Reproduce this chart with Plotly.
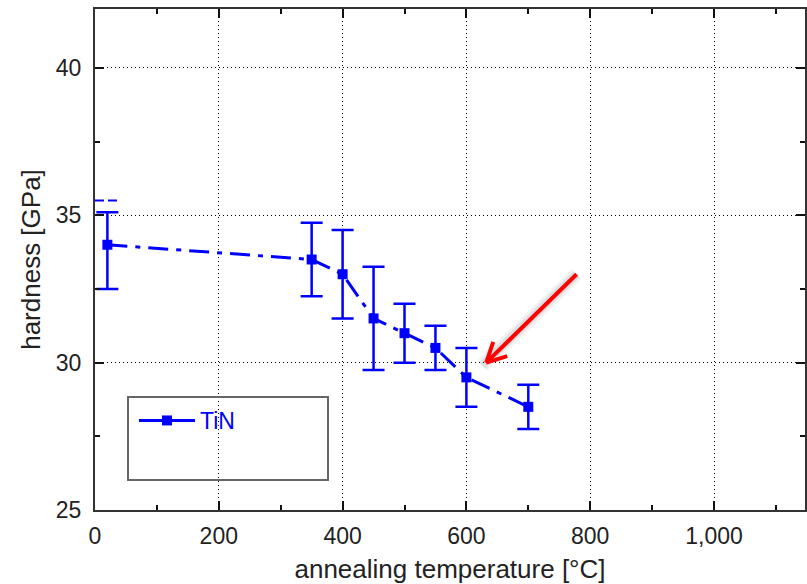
import math
import plotly.graph_objects as go

# ---- data ----
temperature = [20, 350, 400, 450, 500, 550, 600, 700]
hardness = [34.0, 33.5, 33.0, 31.5, 31.0, 30.5, 29.5, 28.5]
hardness_upper = [35.1, 34.75, 34.5, 33.25, 32.0, 31.25, 30.5, 29.25]
hardness_lower = [32.5, 32.25, 31.5, 29.75, 30.0, 29.75, 28.5, 27.75]
series_name = "TiN"

# short dashed cap segment near the first point
cap_x = [0, 36]
cap_y = [35.5, 35.5]

# arrow (data coordinates)
arrow_tail = (778, 33.0)
arrow_tip = (632, 30.0)

x_ticks = [0, 200, 400, 600, 800, 1000]
y_ticks = [25, 30, 35, 40]

X_RANGE = [0, 1147]
Y_RANGE = [25, 42]

BLUE = "#0000ff"
FONT = "Liberation Sans, Arial, sans-serif"

err_plus = [u - v for u, v in zip(hardness_upper, hardness)]
err_minus = [v - l for v, l in zip(hardness, hardness_lower)]

fig = go.Figure()

fig.add_trace(go.Scatter(
    x=temperature, y=hardness, name=series_name, mode="lines+markers",
    legendgroup="tin", showlegend=False,
    line=dict(color=BLUE, width=3, dash="20px,8px,5px,8px"),
    marker=dict(symbol="square", size=10, color=BLUE),
    error_y=dict(type="data", symmetric=False, array=err_plus, arrayminus=err_minus,
                 color=BLUE, thickness=2.5, width=11),
))
# legend entry (solid line + square, as in the reference legend)
fig.add_trace(go.Scatter(
    x=[None], y=[None], name=series_name, mode="lines+markers", legendgroup="tin",
    line=dict(color=BLUE, width=3), marker=dict(symbol="square", size=10, color=BLUE),
))

fig.add_trace(go.Scatter(
    x=cap_x, y=cap_y, mode="lines", showlegend=False, hoverinfo="skip",
    line=dict(color=BLUE, width=2, dash="9px,4px"),
))

# plot geometry for arrow barbs
W, H = 807, 584
ML, MR, MT, MB = 95, 2, 9, 74
pw = W - ML - MR
ph = H - MT - MB
sx = pw / (X_RANGE[1] - X_RANGE[0])
sy = ph / (Y_RANGE[1] - Y_RANGE[0])

shapes = []
# shadow of the arrow
for wdt, op in [(14, 0.05), (9, 0.07)]:
    shapes.append(dict(type="line", xref="x", yref="y",
                       x0=arrow_tail[0], y0=arrow_tail[1], x1=arrow_tip[0] - 4 / sx, y1=arrow_tip[1] - 3 / sy,
                       line=dict(color=f"rgba(0,0,0,{op})", width=wdt)))
# arrow shaft
shapes.append(dict(type="line", xref="x", yref="y",
                   x0=arrow_tail[0], y0=arrow_tail[1], x1=arrow_tip[0], y1=arrow_tip[1],
                   line=dict(color="#ff0000", width=4)))
# barbs
dxp = (arrow_tail[0] - arrow_tip[0]) * sx
dyp = (arrow_tail[1] - arrow_tip[1]) * sy
ang = math.atan2(dyp, dxp)
for da in (math.radians(27), -math.radians(27)):
    L = 22
    bx = arrow_tip[0] + L * math.cos(ang + da) / sx
    by = arrow_tip[1] + L * math.sin(ang + da) / sy
    shapes.append(dict(type="line", xref="x", yref="y",
                       x0=arrow_tip[0], y0=arrow_tip[1], x1=bx, y1=by,
                       line=dict(color="#ff0000", width=4)))

# legend box
shapes.append(dict(type="rect", xref="paper", yref="paper",
                   x0=(128 - ML) / pw, x1=(328 - ML) / pw,
                   y0=(H - MB - 480) / ph, y1=(H - MB - 397) / ph,
                   line=dict(color="#666666", width=2), fillcolor="rgba(0,0,0,0)"))

axis_common = dict(
    showline=True, linecolor="#333333", linewidth=2, mirror="ticks",
    ticks="inside", tickcolor="#111111", tickwidth=2, ticklen=9,
    showgrid=True, gridcolor="#000000", gridwidth=1, griddash="1px,3px",
    zeroline=False, tickfont=dict(family=FONT, size=23, color="#222222"),
    automargin=False,
)

fig.update_layout(
    width=W, height=H,
    margin=dict(l=ML, r=MR, t=MT, b=MB),
    paper_bgcolor="white", plot_bgcolor="white",
    shapes=shapes,
    showlegend=True,
    legend=dict(x=(134 - ML) / pw, y=(H - MB - 399) / ph, xanchor="left", yanchor="top",
                bgcolor="rgba(0,0,0,0)", borderwidth=0,
                font=dict(family=FONT, size=23, color=BLUE), itemwidth=56),
    xaxis=dict(range=X_RANGE, tickvals=x_ticks, ticktext=[f"{v:,}" for v in x_ticks],
               ticklabelstandoff=4,
               minor=dict(dtick=100, ticks="inside", ticklen=5, tickwidth=2, tickcolor="#111111", showgrid=False),
               title=dict(text="annealing temperature [°C]", font=dict(family=FONT, size=26, color="#222222"), standoff=12),
               **axis_common),
    yaxis=dict(range=Y_RANGE, tickvals=y_ticks, ticklabelstandoff=7,
               minor=dict(dtick=2.5, ticks="inside", ticklen=5, tickwidth=2, tickcolor="#111111", showgrid=False),
               title=dict(text="hardness [GPa]", font=dict(family=FONT, size=26, color="#222222"), standoff=8),
               **axis_common),
)

fig.write_html("out.html", config={"displayModeBar": False},
               post_script="document.body.style.margin='0px';")
